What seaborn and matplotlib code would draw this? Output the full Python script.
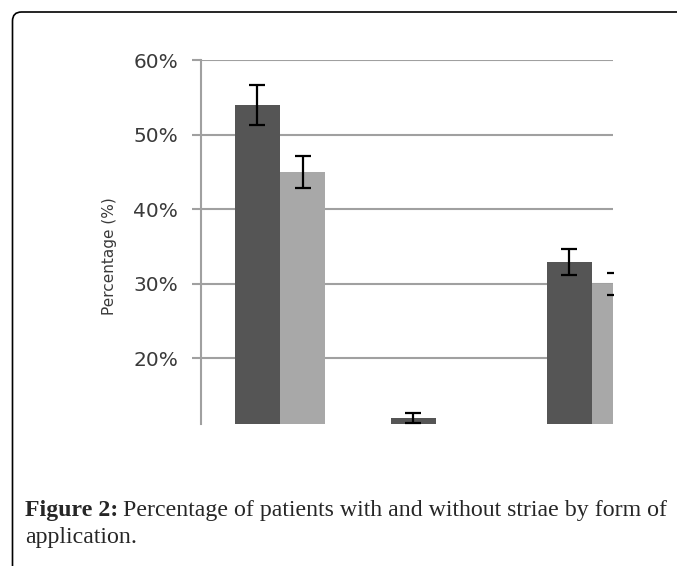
import numpy as np
import pandas as pd
import matplotlib
matplotlib.use('Agg')
import matplotlib.pyplot as plt
import seaborn as sns
from matplotlib.patches import FancyBboxPatch
from matplotlib.transforms import IdentityTransform

# values (percent)
grupos = ['G1', 'G2', 'G3']
series = ['With striae', 'Without striae']
com_estrias = [54.0, 12.0, 32.9]
com_erro = [2.7, 0.7, 1.75]
sem_estrias = [45.0, 0.0, 30.0]
sem_erro = [2.1, np.nan, 1.5]
ticks_y = [20, 30, 40, 50, 60]

dados = pd.DataFrame({
    'grupo': grupos * 2,
    'serie': [series[0]] * 3 + [series[1]] * 3,
    'valor': com_estrias + sem_estrias,
})
erros = [com_erro, sem_erro]

paleta = ['#555555', '#a8a8a8']
cinza = '#a0a0a0'

sns.set_style('white')
plt.rcParams['font.family'] = ['DejaVu Sans']

fig = plt.figure(figsize=(6.77, 5.66), dpi=100)
ax = fig.add_axes([201 / 677, 1 - 423.5 / 566, (613 - 201) / 677, (423.5 - 60) / 566])

sns.barplot(data=dados, x='grupo', y='valor', hue='serie', palette=paleta,
            width=0.58, saturation=1, errorbar=None, legend=False, ax=ax,
            linewidth=0)

for cont, err in zip(ax.containers, erros):
    xs = [p.get_x() + p.get_width() / 2 for p in cont]
    ys = [p.get_height() for p in cont]
    ax.errorbar(xs, ys, yerr=err, fmt='none', ecolor='black', elinewidth=1.6,
                capsize=6, capthick=1.6, zorder=5)

ax.set_ylim(11.25, 60)
ax.set_xlim(-0.506, 2.135)
ax.set_yticks(ticks_y)
ax.set_yticklabels([f'{t}%' for t in ticks_y])
ax.set_xticks([])
ax.set_xlabel('')
ax.set_ylabel('Percentage (%)', fontsize=11, color='#3a3a3a')
ax.yaxis.set_label_coords(-0.203, 0.46)
ax.yaxis.grid(True, color=cinza, linewidth=1.5)
ax.set_axisbelow(True)
ax.tick_params(axis='y', length=6.5, width=1.5, color=cinza, direction='out',
               pad=10, labelsize=14.5, labelcolor='#3a3a3a', left=True)
for lado in ['top', 'right', 'bottom']:
    ax.spines[lado].set_visible(False)
ax.spines['left'].set_color(cinza)
ax.spines['left'].set_linewidth(1.5)

# moldura arredondada, cortada a direita e embaixo
moldura = FancyBboxPatch((12.5, -60), 900, 566 - 12 + 60,
                         boxstyle='round,pad=0,rounding_size=9',
                         transform=IdentityTransform(), fill=False,
                         edgecolor='black', linewidth=1.2)
fig.patches.append(moldura)

# legenda da figura
tam = 17.2
r = fig.canvas.get_renderer()
t1 = fig.text(25 / 677, 1 - 516 / 566, 'Figure 2:', fontsize=tam, fontweight='bold',
              family='Liberation Serif', va='baseline', ha='left')
bb = t1.get_window_extent(renderer=r)
fig.text((bb.x1 + 5) / 677, 1 - 516 / 566,
         'Percentage of patients with and without striae by form of',
         fontsize=tam, family='Liberation Serif', va='baseline', ha='left')
fig.text(25 / 677, 1 - 543 / 566, 'application.', fontsize=tam,
         family='Liberation Serif', va='baseline', ha='left')

plt.savefig('out.png', dpi=100)
